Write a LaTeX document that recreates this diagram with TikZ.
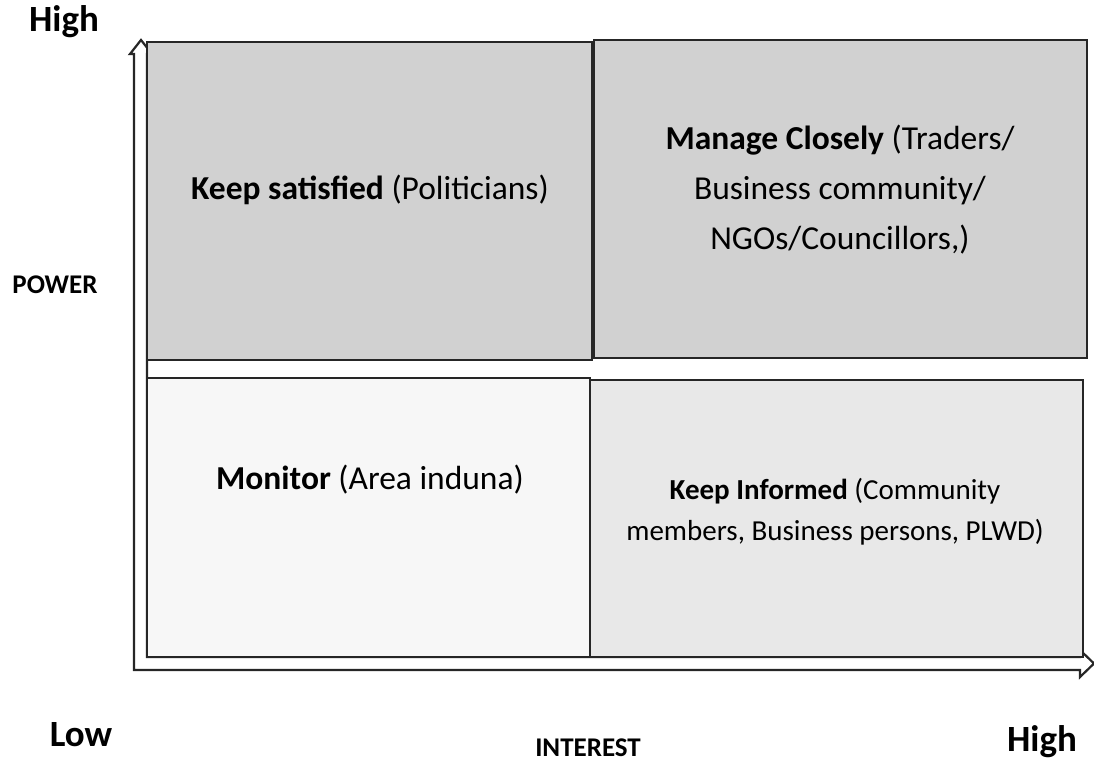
\documentclass[tikz,border=0pt]{standalone}
\usepackage{fontspec}
\setmainfont{Carlito}
\usepackage{tikz}
\usetikzlibrary{positioning}

\begin{document}
\begin{tikzpicture}[
  x=1pt, y=-1pt,
  quadbox/.style={rectangle, draw=black!85, line width=1.8pt, inner sep=0pt},
  darkbox/.style={quadbox, fill=black!18},
  midbox/.style={quadbox, fill=black!9},
  lightbox/.style={quadbox, fill=black!3},
  quadtext/.style={align=center, font=\fontsize{33.5}{50}\selectfont},
  smalltext/.style={align=center, font=\fontsize{29}{41}\selectfont},
  axislabel/.style={font=\bfseries\fontsize{37}{42}\selectfont},
  axisname/.style={font=\bfseries\fontsize{27}{30}\selectfont, inner sep=1pt},
  axisline/.style={draw=black!85, line width=2.2pt, line join=miter, fill=white}
]
\useasboundingbox (0,0) rectangle (1094,764);

% hollow L-shaped axes with open heads
\draw[axisline] (134,670) -- (134,54) -- (130,54) -- (141,40) -- (152,54)
  -- (147,54) -- (147,657) -- (1080,657) -- (1080,650) -- (1094,663.5)
  -- (1080,677) -- (1080,670) -- cycle;

% quadrants
\node[darkbox, minimum width=445, minimum height=318] (ksat) at (369.5,201) {};
\node[darkbox, minimum width=493, minimum height=318] (mclose) at (840.5,199) {};
\node[lightbox, minimum width=443, minimum height=279] (mon) at (368.5,517.5) {};
\node[midbox, minimum width=493, minimum height=277] (kinf) at (836.5,518.5) {};

\node[quadtext] (ksattxt) at (370,190) {\textbf{Keep satisfied} (Politicians)};
\node[quadtext] (mclosetxt) at (840,190) {\textbf{Manage Closely} (Traders/\\
  Business community/\\ NGOs/Councillors,)};
\node[quadtext] (montxt) at (370,480) {\textbf{Monitor} (Area induna)};
\node[smalltext] (kinftxt) at (835,512) {\textbf{Keep Informed} (Community\\
  members, Business persons, PLWD)};

% axis labels
\node[axislabel] (phigh) at (64,22) {High};
\node[axisname] (power) at (55,285) {POWER};
\node[axislabel] (low) at (81,735) {Low};
\node[axisname] (interest) at (588,748) {INTEREST};
\node[axislabel] (ihigh) at (1042,742) {High};

\end{tikzpicture}
\end{document}
